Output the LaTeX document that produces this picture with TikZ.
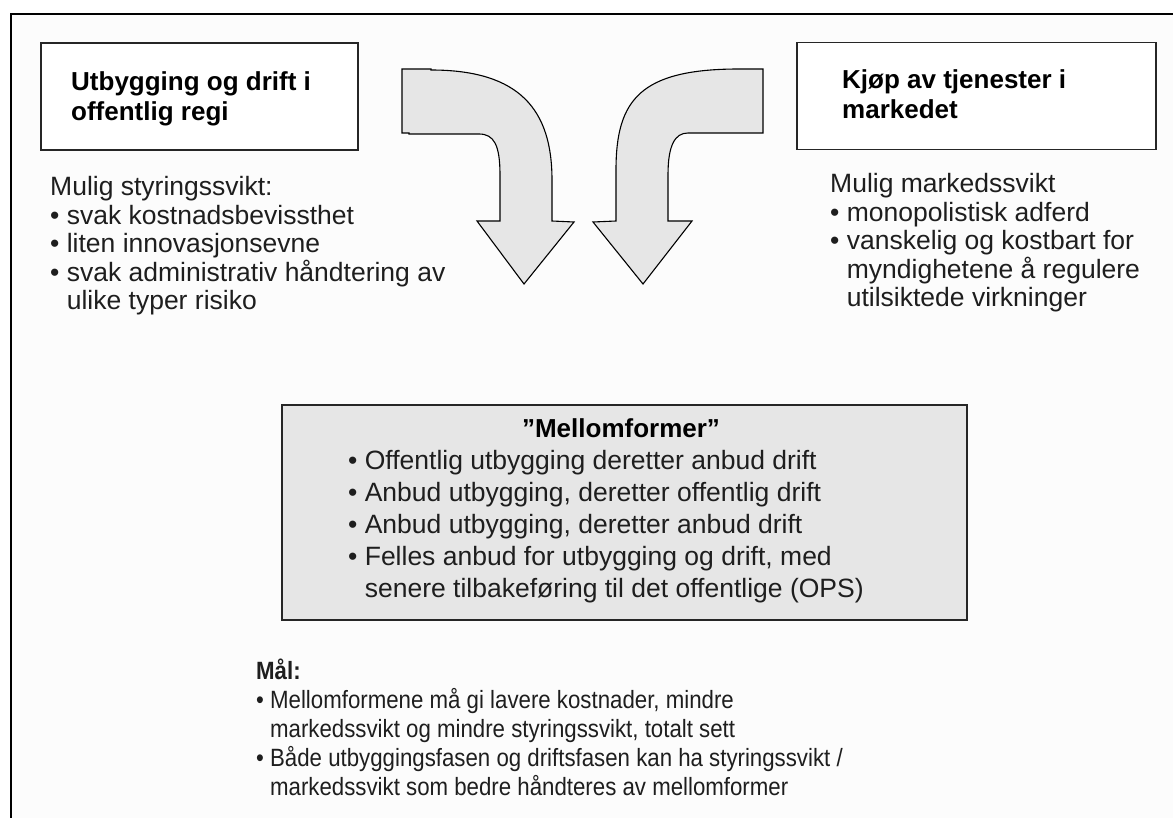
\documentclass[tikz,border=0pt]{standalone}
\usepackage{fontspec}
\setmainfont{Liberation Sans}
\newfontfamily\narrowsans{Liberation Sans}[FakeStretch=0.89]
\usetikzlibrary{positioning}
\definecolor{arrowgray}{HTML}{E6E6E6}
\definecolor{pagegray}{HTML}{FCFCFC}
\definecolor{inkgray}{HTML}{1E1E1E}
\newcommand{\bul}{\textbullet\ }
\newcommand{\ind}{\phantom{\textbullet\ }}

\begin{document}
\begin{tikzpicture}[x=1pt,y=-1pt]
		\tikzset{
			headbox/.style = {draw=black!85, line width=1.3pt, fill=white, minimum height=107pt},
			headtext/.style = {anchor=base west, align=left, inner sep=0pt, font=\fontsize{26}{30}\selectfont\bfseries},
			bodytext/.style = {anchor=base west, align=left, inner sep=0pt, text=inkgray, font=\fontsize{26.5}{28.5}\selectfont},
			bentarrow/.style = {draw=black, line width=1.1pt, fill=arrowgray, line join=miter}
		}
		\useasboundingbox (0,0) rectangle (1173,818);
		\fill[pagegray] (11,14) rectangle (1173,818);
		\draw[line width=2.4pt] (11,818) -- (11,14) -- (1173,14);
		\node[headbox, minimum width=317pt] (pubbox) at (199.5,96.5) {};
		\node[headbox, minimum width=359pt] (mktbox) at (976.5,96) {};
		\node[headtext] (pubhead) at (71,121) {Utbygging og drift i\\offentlig regi};
		\node[headtext] (mkthead) at (842,119) {Kjøp av tjenester i\\markedet};
		\filldraw[bentarrow] (402,69) -- (431,69) -- (431,70) .. controls (520,70) and (552,110) .. (552,180) -- (552,221) -- (574,222) -- (524,284) -- (477,221) -- (500,221) -- (500,175) .. controls (500,145) and (494,134) .. (479,134) -- (409,134) -- (409,133) -- (402,133) -- cycle;
		\filldraw[bentarrow] (763,69) -- (739,69) .. controls (640,69) and (616,100) .. (616,170) -- (616,221) -- (593,222) -- (643,284) -- (692,221) -- (668,221) -- (668,175) .. controls (668,145) and (675,133) .. (688,133) -- (763,133) -- cycle;
		\node[bodytext] (pubtxt) at (50,310) {Mulig styringssvikt:\\\bul svak kostnadsbevissthet\\\bul liten innovasjonsevne\\\bul svak administrativ håndtering av\\\ind ulike typer risiko};
		\node[bodytext] (mkttxt) at (830,307) {Mulig markedssvikt\\\bul monopolistisk adferd\\\bul vanskelig og kostbart for\\\ind myndighetene å regulere\\\ind utilsiktede virkninger};
		\node[draw=black!85, line width=1.3pt, fill=arrowgray, minimum width=685pt, minimum height=215pt] (midbox) at (624.5,512.5) {};
		\node[anchor=base, inner sep=0pt, font=\fontsize{26}{30}\selectfont\bfseries] (midhead) at (621,437) {”Mellomformer”};
		\node[bodytext, font=\fontsize{26.5}{32}\selectfont] (midtxt) at (348,597) {\bul Offentlig utbygging deretter anbud drift\\\bul Anbud utbygging, deretter offentlig drift\\\bul Anbud utbygging, deretter anbud drift\\\bul Felles anbud for utbygging og drift, med\\\ind senere tilbakeføring til det offentlige (OPS)};
		\node[bodytext, font=\narrowsans\fontsize{25}{29}\selectfont] (maltxt) at (256,795) {\textbf{Mål:}\\\bul Mellomformene må gi lavere kostnader, mindre\\\ind markedssvikt og mindre styringssvikt, totalt sett\\\bul Både utbyggingsfasen og driftsfasen kan ha styringssvikt /\\\ind markedssvikt som bedre håndteres av mellomformer};
	\end{tikzpicture}
\end{document}
